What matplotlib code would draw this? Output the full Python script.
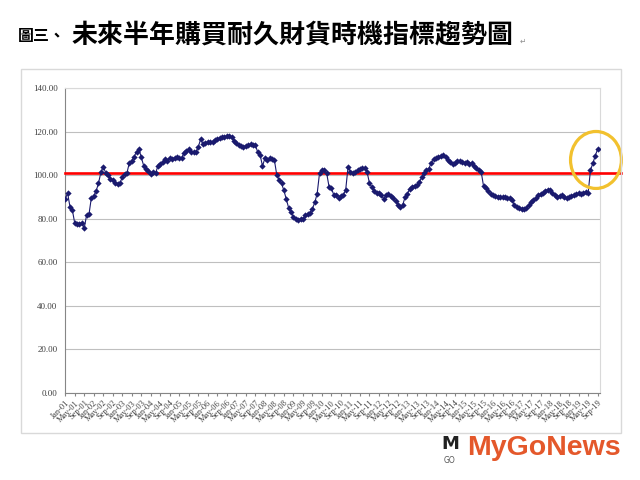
import matplotlib.pyplot as plt
from matplotlib.patches import Ellipse, Rectangle
import pandas as pd

# monthly index, Jan-01 .. Sep-19
index_values = [
    89.1, 91.7, 85.5, 84.0, 77.9, 77.6, 77.7, 78.2, 75.6, 81.7, 82.0, 89.7,
    90.4, 92.7, 96.3, 101.3, 103.9, 101.2, 100.1, 98.1, 97.8, 96.6, 96.1, 96.3,
    99.0, 100.6, 101.2, 105.8, 106.5, 108.5, 110.8, 112.0, 108.2, 104.4, 102.7, 101.9,
    100.7, 101.6, 100.9, 104.2, 105.0, 106.2, 107.3, 106.7, 107.7, 107.3, 108.1, 108.2,
    107.7, 108.1, 110.1, 111.1, 112.0, 110.5, 110.8, 110.5, 113.1, 116.6, 114.2, 114.6,
    115.4, 115.1, 115.4, 116.2, 116.6, 116.9, 117.4, 117.7, 118.0, 117.9, 117.6, 115.7,
    114.6, 113.9, 113.4, 113.1, 113.4, 113.9, 114.2, 113.9, 113.9, 110.5, 109.3, 104.2,
    107.7, 107.0, 107.7, 107.3, 107.0, 100.1, 97.8, 96.2, 93.0, 89.0, 85.0, 83.0,
    80.8, 79.8, 79.4, 80.0, 79.7, 81.5, 82.0, 82.8, 84.5, 87.5, 91.5, 101.0,
    102.4, 102.4, 100.9, 94.7, 94.0, 90.9, 90.9, 89.7, 90.2, 90.9, 93.2, 103.9,
    101.6, 101.0, 101.6, 102.4, 102.7, 103.1, 103.4, 101.5, 96.3, 94.5, 92.6, 91.8,
    92.0, 90.9, 89.1, 90.9, 91.2, 90.5, 89.5, 88.0, 86.5, 85.2, 86.3, 90.0,
    91.5, 93.8, 94.7, 95.2, 95.6, 96.8, 99.0, 101.0, 102.3, 103.0, 105.8, 107.3,
    107.7, 108.2, 108.8, 109.1, 108.3, 107.2, 106.2, 105.2, 105.4, 106.7, 106.4, 105.9,
    105.4, 106.0, 105.3, 105.7, 104.2, 103.2, 102.6, 101.6, 95.0, 94.0, 92.6, 91.5,
    90.8, 90.2, 89.8, 90.1, 90.1, 89.8, 89.6, 89.3, 88.4, 86.2, 85.4, 84.9,
    84.6, 84.4, 85.0, 86.2, 87.6, 88.6, 89.7, 90.7, 91.5, 92.0, 92.8, 93.4,
    93.0, 92.0, 91.0, 89.9, 90.4, 90.9, 90.1, 89.4, 90.0, 90.6, 90.9, 91.3,
    91.6, 91.3, 92.0, 92.3, 91.7, 102.4, 105.4, 109.0, 111.9,
]
months = pd.date_range('2001-01-01', periods=len(index_values), freq='MS')
month_labels = [m.strftime('%b-%y') for m in months]
baseline = 101.0
y_ticks = [0, 20, 40, 60, 80, 100, 120, 140]

plt.rcParams['font.family'] = ['Noto Sans CJK TC', 'DejaVu Sans']

fig = plt.figure(figsize=(6.4, 4.8), dpi=100)

# chart frame
fig.patches.append(Rectangle((0.033, 0.098), 0.9375, 0.758, transform=fig.transFigure,
                             fill=False, edgecolor='#D9D9D9', lw=1.0))

ax = fig.add_axes([0.1008, 0.1819, 0.8367, 0.6344])
x = range(len(index_values))
ax.plot(x, index_values, color='#1a1a6e', lw=0.8, marker='D', markersize=3.2,
        markeredgewidth=0, zorder=4)
ax.axhline(baseline, xmin=0, xmax=1.04, color='#FF0000', lw=1.9, clip_on=False, zorder=3)

# highlight circle around latest months
ax.add_patch(Ellipse((223.3, 107.0), width=21.4, height=26.2, fill=False,
                     edgecolor='#F2C12E', lw=2.3, clip_on=False, zorder=5))

ax.set_xlim(-0.3, 225)
ax.set_ylim(0, 140)
ax.set_yticks(y_ticks)
ax.set_yticklabels([f'{v:.2f}' for v in y_ticks], family='Liberation Serif', fontsize=6.5,
                   color='#404040')
ax.set_xticks(list(x)[::4])
ax.set_xticklabels(month_labels[::4], rotation=45, ha='right', rotation_mode='anchor',
                   family='Liberation Serif', fontsize=6, color='#404040')
ax.tick_params(axis='y', length=0, pad=5)
ax.tick_params(axis='x', length=2.5, color='#868686', pad=2)
ax.grid(axis='y', color='#BFBFBF', lw=0.8)
ax.set_axisbelow(True)
for side in ['left', 'bottom']:
    ax.spines[side].set_color('#868686')
for side in ['top', 'right']:
    ax.spines[side].set_color('#D9D9D9')

# title
fig.text(0.028, 0.925, '圖三、', fontsize=11.5, fontweight='bold', va='center')
fig.text(0.1125, 0.925, '未來半年購買耐久財貨時機指標趨勢圖', fontsize=18.7,
         fontweight='bold', va='center')
fig.text(0.812, 0.915, '↵', fontsize=5.5, color='#909090', va='center', family='DejaVu Sans')

# watermark logo
fig.text(0.69, 0.074, 'M', fontsize=13, fontweight='bold', color='#222222', va='center',
         family='DejaVu Sans')
fig.text(0.693, 0.040, 'GO', fontsize=5.5, color='#555555', va='center', family='DejaVu Sans')
fig.text(0.73, 0.066, 'MyGoNews', fontsize=20.5, fontweight='bold', color='#E4582B',
         va='center', family='Liberation Sans')

fig.savefig('out.png', dpi=100)
